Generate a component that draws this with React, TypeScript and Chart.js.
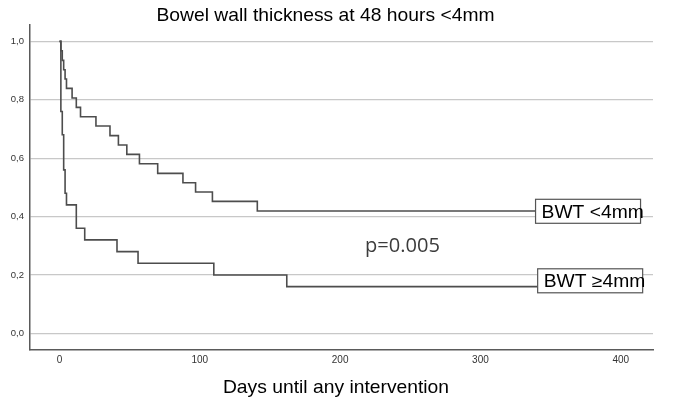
import { useEffect, useRef } from "react";
import { Chart, registerables } from "chart.js";

Chart.register(...registerables);

// Kaplan–Meier style step data (days, survival)
const upperDays = [0, 1, 2, 3, 4, 5, 9, 12, 15, 26, 36, 42, 48, 57, 70, 88, 97, 109, 141, 400];
const upperSurv = [1.0, 0.968, 0.935, 0.903, 0.871, 0.839, 0.806, 0.774, 0.742, 0.71, 0.677, 0.645, 0.613, 0.581, 0.548, 0.516, 0.484, 0.452, 0.419, 0.419];

const lowerDays = [0, 1, 2, 3, 4, 5, 12, 18, 41, 56, 110, 162, 400];
const lowerSurv = [1.0, 0.76, 0.68, 0.56, 0.48, 0.44, 0.36, 0.32, 0.28, 0.24, 0.2, 0.16, 0.16];

const xTickValues = [0, 100, 200, 300, 400];
const yTickValues = [0, 0.2, 0.4, 0.6, 0.8, 1.0];

const seriesLabels = ["BWT <4mm", "BWT \u22654mm"];
const labelDays = [339.3, 340.8];
const labelSurv = [0.418, 0.18];

const pText = "p=0.005";
const pDay = 217.7;
const pSurv = 0.277;

const titleText = "Bowel wall thickness at 48 hours <4mm";
const xTitleText = "Days until any intervention";

const SX = 1.09;

function stretchedText(ctx: CanvasRenderingContext2D, text: string, x: number, y: number, sx: number, align: CanvasTextAlign) {
  ctx.save();
  ctx.translate(x, y);
  ctx.scale(sx, 1);
  ctx.textAlign = align;
  ctx.textBaseline = "alphabetic";
  ctx.fillText(text, 0, 0);
  ctx.restore();
}

export default function App() {
  const ref = useRef<HTMLCanvasElement>(null);

  useEffect(() => {
    document.body.style.margin = "0";
    const overlay = {
      id: "overlay",
      afterDraw(chart: any) {
        const ctx: CanvasRenderingContext2D = chart.ctx;
        const xs = chart.scales.x;
        const ys = chart.scales.y;
        ctx.save();
        // title
        ctx.fillStyle = "#000";
        ctx.font = "17.7px Arial, 'Liberation Sans', sans-serif";
        stretchedText(ctx, titleText, 325.5, 20.7, SX, "center");
        // x axis title
        ctx.font = "17.7px Arial, 'Liberation Sans', sans-serif";
        stretchedText(ctx, xTitleText, 336, 393.3, SX, "center");
        // p value
        ctx.fillStyle = "#3c3c3c";
        ctx.font = "19.5px 'Open Sans', sans-serif";
        const px = xs.getPixelForValue(pDay);
        const py = ys.getPixelForValue(pSurv);
        stretchedText(ctx, pText, px, py, 1.03, "left");
        // label boxes
        seriesLabels.forEach((lab, i) => {
          const bx = xs.getPixelForValue(labelDays[i]);
          const cy = ys.getPixelForValue(labelSurv[i]);
          const bw = 105;
          const bh = 24;
          ctx.fillStyle = "#fff";
          ctx.fillRect(bx, cy - bh / 2, bw, bh);
          ctx.strokeStyle = "#555";
          ctx.lineWidth = 1.2;
          ctx.strokeRect(bx, cy - bh / 2, bw, bh);
          ctx.fillStyle = "#000";
          ctx.font = "17.7px Arial, 'Liberation Sans', sans-serif";
          stretchedText(ctx, lab, bx + 6, cy + 6.3, SX, "left");
        });
        ctx.restore();
      },
    };

    const chart = new Chart(ref.current!, {
      type: "line",
      data: {
        datasets: [
          {
            label: seriesLabels[0],
            data: upperDays.map((d, i) => ({ x: d, y: upperSurv[i] })),
            stepped: true,
            borderColor: "#4d4d4d",
            borderWidth: 1.6,
            pointRadius: 0,
            fill: false,
          },
          {
            label: seriesLabels[1],
            data: lowerDays.map((d, i) => ({ x: d, y: lowerSurv[i] })),
            stepped: true,
            borderColor: "#4d4d4d",
            borderWidth: 1.6,
            pointRadius: 0,
            fill: false,
          },
        ],
      },
      options: {
        animation: false,
        responsive: false,
        layout: { padding: { top: 25, right: 27, left: 0, bottom: 0 } },
        plugins: {
          legend: { display: false },
          title: { display: false },
          tooltip: { enabled: false },
        },
        scales: {
          x: {
            type: "linear",
            min: -21,
            max: 423,
            afterBuildTicks: (s: any) => {
              s.ticks = xTickValues.map((v) => ({ value: v }));
            },
            afterFit: (s: any) => {
              s.height = 55;
            },
            ticks: {
              font: { family: "Arial, 'Liberation Sans', sans-serif", size: 10 },
              color: "#333",
              padding: 4,
              maxRotation: 0,
              callback: (v: any) => String(v),
            },
            grid: { display: false, drawTicks: false },
            border: { display: true, color: "#5a5a5a", width: 1.5 },
          },
          y: {
            type: "linear",
            min: -0.057,
            max: 1.056,
            afterBuildTicks: (s: any) => {
              s.ticks = yTickValues.map((v) => ({ value: v }));
            },
            afterFit: (s: any) => {
              s.width = 30;
            },
            ticks: {
              font: { family: "Arial, 'Liberation Sans', sans-serif", size: 9.5 },
              color: "#333",
              padding: 6,
              callback: (v: any) => Number(v).toFixed(1).replace(".", ","),
            },
            grid: { color: "#c8c8c8", lineWidth: 1.2, drawTicks: false },
            border: { display: true, color: "#5a5a5a", width: 1.5 },
          },
        },
      },
      plugins: [overlay],
    } as any);
    return () => chart.destroy();
  }, []);

  return (
    <div style={{ width: 680, height: 405, background: "#fff" }}>
      <canvas ref={ref} width={680} height={405} style={{ display: "block" }} />
    </div>
  );
}
